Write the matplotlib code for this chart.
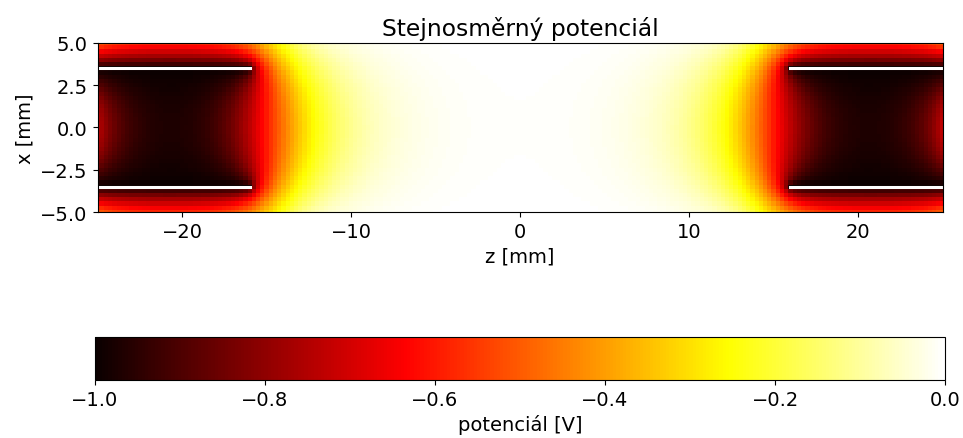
import numpy as np
import matplotlib
matplotlib.use("Agg")
import matplotlib.pyplot as plt

plt.rcParams["font.size"] = 14

# geometrie (mm) a napeti elektrod (V), osove symetricke trubky
z_view = [-25.0, 25.0]
x_view = [-5.0, 5.0]
z_domain = [-27.5, 27.5]
r_outer = 8.5
electrode_r = 3.5
electrode_z_inner = 16.0
electrode_u = -1.0
ground_r = 6.0          # uzemnena stredni trubka
ground_z_half = 13.0
h = 0.25

# reseni Laplaceovy rovnice ve valcovych souradnicich (SOR, red-black)
z = np.arange(z_domain[0], z_domain[1] + h / 2, h)
x = np.arange(-r_outer, r_outer + h / 2, h)
Z, X = np.meshgrid(z, x)
elec = (np.abs(np.abs(X) - electrode_r) < h / 2) & (np.abs(Z) >= electrode_z_inner)
gnd = (np.abs(X) >= ground_r - h / 2) & (np.abs(Z) <= ground_z_half)
fixed = elec | gnd
fixed[0, :] = fixed[-1, :] = True
fixed[:, 0] = fixed[:, -1] = True
V = np.where(elec, electrode_u, 0.0)

axis = np.abs(X) < h / 2
Xs = np.where(axis, 1.0, X)
w_up = np.where(axis, 2.0, 1 + h / (2 * Xs))
w_dn = np.where(axis, 2.0, 1 - h / (2 * Xs))
norm = np.where(axis, 6.0, 4.0)

I, J = np.indices(V.shape)
masks = [((I + J) % 2 == c) & ~fixed for c in (0, 1)]
omega = 1.9
for it in range(3000):
    for m in masks:
        avg = (w_up * np.roll(V, -1, 0) + w_dn * np.roll(V, 1, 0)
               + np.roll(V, 1, 1) + np.roll(V, -1, 1)) / norm
        V[m] += omega * (avg[m] - V[m])

fig = plt.figure(figsize=(9.63, 4.39), dpi=100)
ax = fig.add_axes([0.0987, 0.5148, 0.8827, 0.385])
im = ax.pcolormesh(z, x, V, cmap="hot", vmin=-1, vmax=0, shading="nearest")
for xe in (-electrode_r, electrode_r):
    ax.plot([z_view[0], -electrode_z_inner], [xe, xe], color="white", lw=2.2)
    ax.plot([electrode_z_inner, z_view[1]], [xe, xe], color="white", lw=2.2)
ax.set_xlim(z_view)
ax.set_ylim(x_view)
ax.set_aspect("equal")
ax.set_yticks([-5, -2.5, 0, 2.5, 5])
ax.set_xlabel("z [mm]")
ax.set_ylabel("x [mm]")
ax.set_title("Stejnosměrný potenciál")

cax = fig.add_axes([0.0987, 0.132, 0.8827, 0.098])
cb = fig.colorbar(im, cax=cax, orientation="horizontal")
cb.set_label("potenciál [V]")

fig.savefig("out.png", dpi=100)
